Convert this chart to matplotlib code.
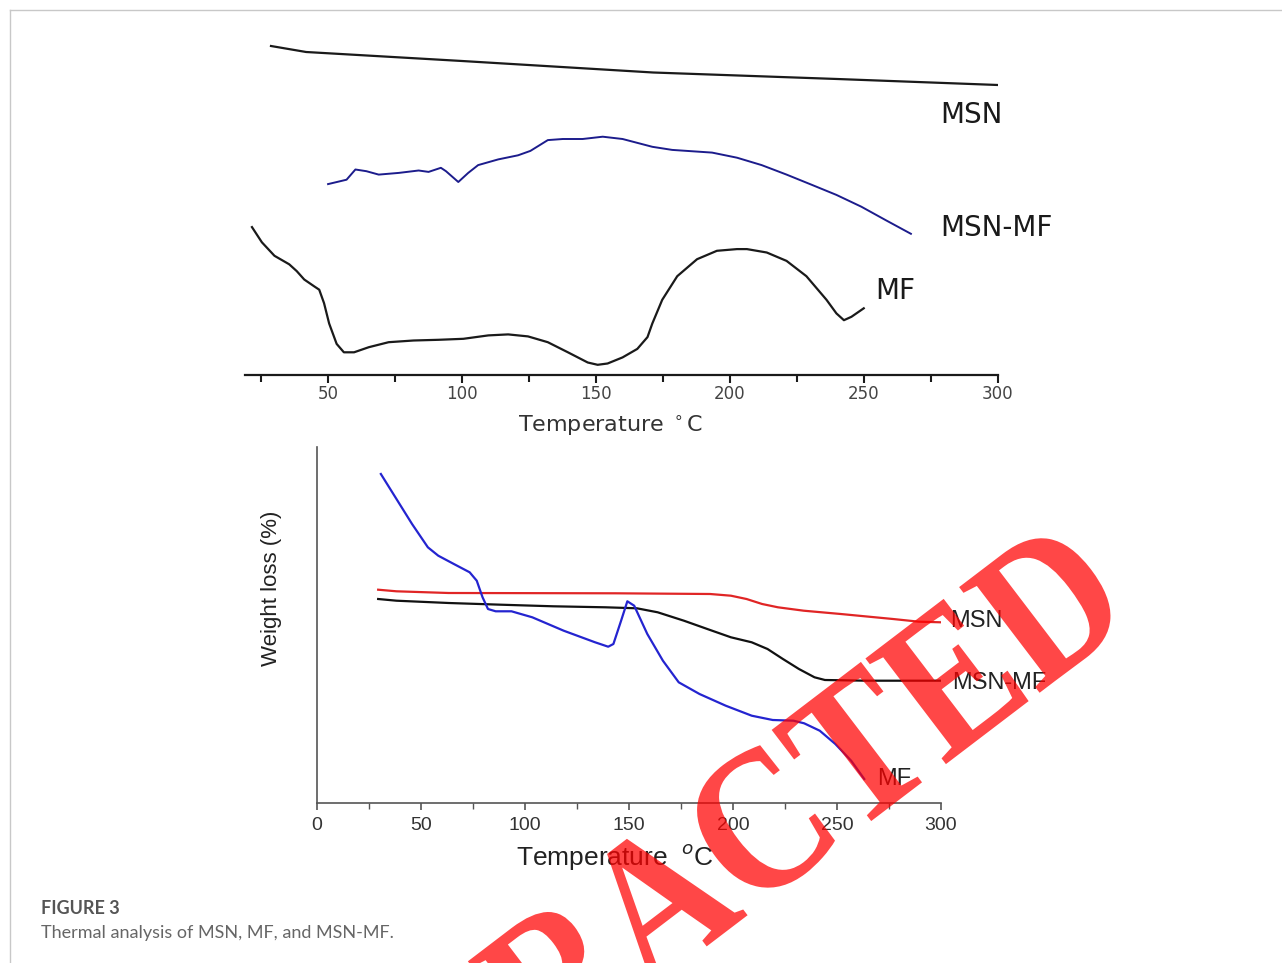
import matplotlib
matplotlib.use("Agg")
import matplotlib.pyplot as plt
from matplotlib.lines import Line2D
from matplotlib.patheffects import AbstractPathEffect
from matplotlib.transforms import Affine2D

# ---------------- data (arbitrary y units) ----------------
# top panel: DSC-like traces, temperature in degC
top_msn_T = [28.7, 41.8, 100, 171.3, 240, 300]
top_msn_y = [329, 323, 314, 302.5, 296, 290]

top_msnmf_T = [50, 56.9, 60.2, 64.3, 68.9, 76.4, 83.8, 87.5, 92.1, 94, 98.6, 102.3, 106,
               113.5, 120.9, 125.5, 132, 137.6, 145, 152.5, 159.9, 171, 178.4, 193.3,
               202.6, 211.8, 221.1, 230.4, 239.7, 249, 258.2, 267.5]
top_msnmf_y = [190.9, 195.3, 205.5, 203.8, 200.4, 202.1, 204.5, 203.1, 207.2, 203.8, 193,
               202.1, 209.9, 215.6, 219.7, 224.1, 234.9, 236, 236, 238.3, 236, 228.2, 225.1,
               222.4, 217.3, 209.9, 200.4, 190.3, 180.1, 168.3, 154.7, 141.2]

top_mf_T = [21.6, 25.3, 30, 35.5, 38.3, 41.1, 44.8, 46.7, 48.5, 50.4, 53.2, 55.9, 59.7,
            65.2, 72.6, 81.9, 91.2, 100.5, 109.8, 117.2, 124.6, 132, 139.5, 146.9, 150.6,
            154.3, 159.9, 165.4, 169.2, 171, 174.7, 180.3, 187.7, 195.1, 202.6, 206.3,
            213.7, 221.1, 228.5, 236, 239.7, 242.5, 245.3, 249.9]
top_mf_y = [147.9, 132.7, 119.2, 110.7, 103.9, 95.5, 88.7, 85.3, 71.8, 51.5, 31.1, 22.7,
            22.7, 27.8, 32.8, 34.5, 35.2, 36.2, 39.6, 40.6, 38.6, 32.8, 22.7, 12.5, 10.2,
            11.5, 17.6, 26.1, 37.9, 51.5, 75.2, 98.8, 115.8, 124.2, 125.9, 125.9, 122.5,
            114.1, 98.8, 75.2, 61.6, 54.8, 58.2, 66.7]

# bottom panel: weight loss traces
bot_msn_T = [29.4, 38.2, 63.3, 143.7, 189, 199, 206.5, 214, 221.6, 234, 251.8, 276.9, 289.4, 300]
bot_msn_y = [213.3, 211.7, 210, 209.7, 209, 207.3, 204, 199, 195.7, 192.3, 189, 184, 181.3, 180.7]

bot_msnmf_T = [29.4, 38.2, 63.3, 88.4, 113.6, 138.7, 153.8, 163.8, 176.4, 189, 199, 209,
               216.6, 224, 231.7, 239.2, 244.2, 264.3, 300]
bot_msnmf_y = [204, 202.3, 200, 198.3, 196.7, 195.7, 194.7, 190.7, 182.3, 173, 165.7, 160.7,
               154, 144, 134, 125.7, 123, 122.3, 122.3]

bot_mf_T = [30.7, 38.2, 45.7, 53.3, 58.3, 65.8, 73.4, 76.8, 79.6, 82.2, 85.9, 93.5, 103.5,
            118.6, 133.7, 140, 142.5, 146.2, 149.2, 152.5, 158.8, 166.3, 173.9, 183.9, 196.5,
            209, 219.1, 229.1, 234.2, 241.7, 249.2, 256.8, 263.1]
bot_mf_y = [329, 304, 279, 255.7, 247.3, 239, 230.7, 222.3, 205.7, 194, 191.7, 191.7, 185.7,
            172.3, 160.7, 156.3, 159, 182.3, 201.7, 197.3, 169, 142.3, 120.7, 109, 97.3, 87.3,
            83, 82.3, 79.7, 72.3, 59, 42.3, 24]

top_ticks = [50, 100, 150, 200, 250, 300]
bot_ticks = [0, 50, 100, 150, 200, 250, 300]


# stretches glyphs upward from the baseline (the stamp letters are a bit tall)
class Tall(AbstractPathEffect):
    def __init__(self, k):
        super().__init__()
        self.k = k

    def draw_path(self, renderer, gc, tpath, affine, rgbFace=None):
        renderer.draw_path(gc, tpath, Affine2D().scale(1, self.k) + affine, rgbFace)


# ---------------- figure ----------------
fig = plt.figure(figsize=(12.82, 9.63), dpi=100)
fig.patch.set_facecolor("white")

# thin page frame (top and left edge)
fig.add_artist(Line2D([10/1282, 1], [1-10/963, 1-10/963], color="#c8c8c8", lw=1))
fig.add_artist(Line2D([10/1282, 10/1282], [0, 1-10/963], color="#c8c8c8", lw=1))

# ---- top panel ----
ax1 = fig.add_axes([245/1282, 1-375/963, 753/1282, 335/963])
ax1.plot(top_msn_T, top_msn_y, color="#1a1a1a", lw=1.6)
ax1.plot(top_msnmf_T, top_msnmf_y, color="#1c1c8c", lw=1.4)
ax1.plot(top_mf_T, top_mf_y, color="#1a1a1a", lw=1.6)
ax1.set_xlim(19.0, 300)
ax1.set_ylim(0, 335)
for s in ["left", "right", "top"]:
    ax1.spines[s].set_visible(False)
ax1.spines["bottom"].set_linewidth(1.6)
ax1.spines["bottom"].set_color("#1a1a1a")
ax1.set_yticks([])
ax1.set_xticks(top_ticks)
ax1.set_xticks([25, 75, 125, 175, 225, 275], minor=True)
ax1.tick_params(axis="x", which="major", length=6, width=1.5, color="#1a1a1a",
                labelsize=12, labelcolor="#444444", pad=1)
ax1.tick_params(axis="x", which="minor", length=5, width=1.5, color="#1a1a1a")
ax1.set_xlabel("Temperature $^\\circ$C", fontsize=16, color="#333333")
ax1.xaxis.set_label_coords(0.486, -0.115)
ax1.text(278.4, 260, "MSN", fontsize=20, color="#1a1a1a", va="center", ha="left", clip_on=False)
ax1.text(278.4, 147, "MSN-MF", fontsize=20, color="#1a1a1a", va="center", ha="left", clip_on=False)
ax1.text(254.1, 84, "MF", fontsize=20, color="#1a1a1a", va="center", ha="left", clip_on=False)

# ---- bottom panel ----
ax2 = fig.add_axes([317/1282, 1-803/963, 624/1282, 356/963])
ax2.plot(bot_msn_T, bot_msn_y, color="#e02525", lw=1.6)
ax2.plot(bot_msnmf_T, bot_msnmf_y, color="#111111", lw=1.6)
ax2.plot(bot_mf_T, bot_mf_y, color="#2424d0", lw=1.6)
ax2.set_xlim(0, 300)
ax2.set_ylim(0, 356)
for s in ["right", "top"]:
    ax2.spines[s].set_visible(False)
for s in ["left", "bottom"]:
    ax2.spines[s].set_linewidth(1.2)
    ax2.spines[s].set_color("#555555")
ax2.set_yticks([])
ax2.set_xticks(bot_ticks)
ax2.set_xticks([25, 75, 125, 175, 225, 275], minor=True)
ax2.tick_params(axis="x", which="major", length=5, width=1.2, color="#555555",
                labelsize=14, labelcolor="#333333", pad=5)
ax2.tick_params(axis="x", which="minor", length=4, width=1.0, color="#555555")
for lab in ax2.get_xticklabels():
    lab.set_family("Liberation Sans")
ax2.set_xlabel("Temperature  $^{o}$C", fontsize=19, family="Liberation Sans", color="#222222")
ax2.xaxis.set_label_coords(0.478, -0.11)
ax2.set_ylabel("Weight loss (%)", fontsize=16, family="Liberation Sans", color="#222222")
ax2.yaxis.set_label_coords(-0.056, 0.604)
ax2.text(304.5, 182, "MSN", fontsize=17, family="Liberation Sans", color="#222222",
         va="center", ha="left", clip_on=False)
ax2.text(305.5, 120, "MSN-MF", fontsize=17, family="Liberation Sans", color="#222222",
         va="center", ha="left", clip_on=False)
ax2.text(269.5, 24, "MF", fontsize=17, family="Liberation Sans", color="#222222",
         va="center", ha="left", clip_on=False)

# ---- caption ----
fig.text(41/1282, 1-908/963, "FIGURE 3", fontsize=13, fontweight="bold", family="Lato",
         color="#555555", va="center", ha="left")
fig.text(41/1282, 1-933/963, "Thermal analysis of MSN, MF, and MSN-MF.", fontsize=13,
         family="Lato", color="#666666", va="center", ha="left")

# ---- watermark ----
fig.text(698/1282, 1-953/963, "RETRACTED", fontsize=127, fontweight="bold",
         family="Liberation Serif", color="red", alpha=0.72, rotation=37.3,
         rotation_mode="anchor", ha="center", va="baseline", zorder=10,
         path_effects=[Tall(1.15)])

fig.savefig("out.png", dpi=100)
